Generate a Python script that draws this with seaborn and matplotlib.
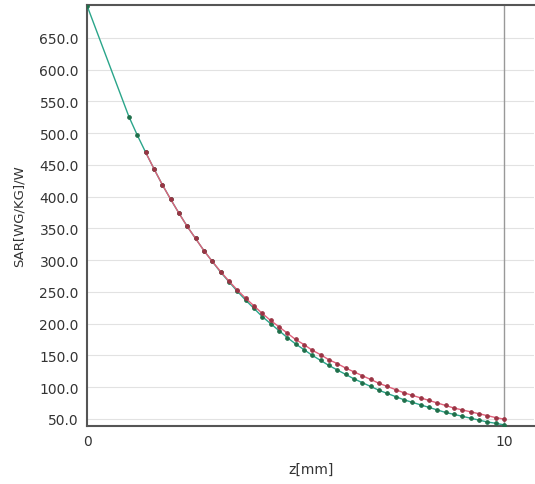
import numpy as np
import pandas as pd
import seaborn as sns
import matplotlib.pyplot as plt

# measured / simulated SAR along depth
z_green = [0.0, 1.0, 1.2, 1.4, 1.6, 1.8, 2.0, 2.2, 2.4, 2.6, 2.8, 3.0, 3.2, 3.4, 3.6,
           3.8, 4.0, 4.2, 4.4, 4.6, 4.8, 5.0, 5.2, 5.4, 5.6, 5.8, 6.0, 6.2, 6.4,
           6.6, 6.8, 7.0, 7.2, 7.4, 7.6, 7.8, 8.0, 8.2, 8.4, 8.6, 8.8, 9.0, 9.2,
           9.4, 9.6, 9.8, 10.0]
sar_green = [700, 526, 497, 470, 444, 419, 396, 374, 353, 334, 315, 298, 281, 266, 251,
             237, 224, 211, 200, 189, 178, 168, 159, 150, 142, 134, 127, 120, 113,
             107, 101, 95, 90, 85, 80, 76, 72, 68, 64, 60, 57, 54, 51,
             48, 45, 43, 40.5]

z_red = z_green[3:]
sar_red = [470, 444, 419, 396, 374, 353, 334, 315, 298, 282, 267, 253,
           240, 228, 216, 205, 195, 185, 175, 167, 158, 151, 143, 137, 130, 124,
           118, 112, 106, 101, 96, 91, 87, 83, 79, 75, 71, 67, 64, 61,
           58, 55, 52, 49.5]

y_ticks = np.arange(50, 651, 50)

sns.set_style("white")
plt.rcParams['font.family'] = ['DejaVu Sans']

fig = plt.figure(figsize=(5.35, 4.85), dpi=100)
ax = fig.add_axes([0.163, 0.12, 0.835, 0.868])

sns.lineplot(x=z_green, y=sar_green, ax=ax, color='#2aa58a', linewidth=1.0,
             marker='o', markersize=2.6, markerfacecolor='#1f6f4a',
             markeredgecolor='#1f6f4a', zorder=3)
sns.lineplot(x=z_red, y=sar_red, ax=ax, color='#e0607a', linewidth=1.0,
             marker='o', markersize=2.6, markerfacecolor='#9a3444',
             markeredgecolor='#9a3444', zorder=4)

ax.set_xlim(0, 10.72)
ax.set_ylim(39, 702)
ax.set_xticks([0, 10])
ax.set_xticklabels(['0', '10'])
ax.set_yticks(y_ticks)
ax.set_yticklabels([f'{v:.1f}' for v in y_ticks])
ax.tick_params(axis='both', length=0, labelsize=10, colors='#333333', pad=6)

ax.grid(axis='y', color='#e2e2e2', linewidth=0.8)
ax.axvline(10, color='#999999', linewidth=1.0, zorder=1)

for side in ['left', 'top', 'bottom']:
    ax.spines[side].set_color('#555555')
    ax.spines[side].set_linewidth(1.5)
ax.spines['right'].set_visible(False)

ax.set_xlabel('z[mm]', fontsize=10, color='#333333', labelpad=10)
ax.set_ylabel('SAR[WG/KG]/W', fontsize=9.5, color='#333333', labelpad=10)

fig.savefig('out.png', dpi=100)
